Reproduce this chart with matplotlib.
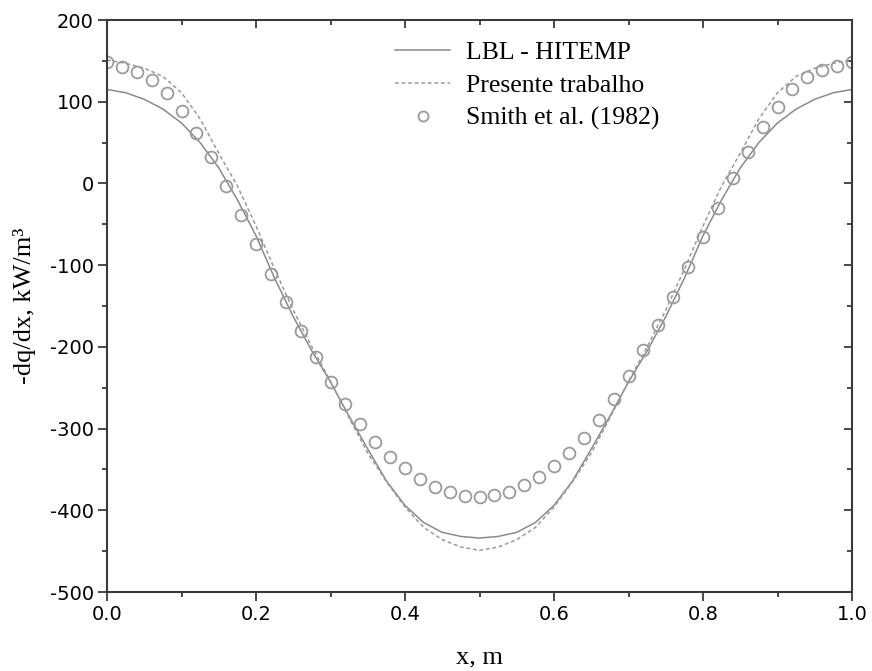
import numpy as np
import matplotlib
matplotlib.use("Agg")
import matplotlib.pyplot as plt

plt.rcParams["axes.unicode_minus"] = False

# curves sampled every 0.025 m
x_line = np.arange(0, 1.0001, 0.025)
lbl_hitemp = [115, 111, 103, 91, 74, 50, 19, -20, -64, -116, -163, -205, -243, -285,
              -325, -364, -394, -415, -427, -432, -434,
              -432, -427, -415, -394, -364, -325, -285, -243, -205, -163, -116, -64,
              -20, 19, 50, 74, 91, 103, 111, 115]
presente = [151, 147, 141, 131, 111, 79, 37, -3, -52, -105, -155, -200, -242, -287,
            -330, -365, -396, -421, -436, -445, -449,
            -445, -436, -421, -396, -365, -330, -287, -242, -200, -155, -105, -52,
            -3, 37, 79, 111, 131, 141, 147, 151]

# Smith et al. (1982), every 0.02 m
x_smith = np.arange(0, 1.0001, 0.02)
smith = [148, 142, 136, 127, 111, 89, 62, 32, -3, -39, -74, -111, -145, -180, -213,
         -243, -270, -294, -316, -335, -348, -362, -371, -378, -382, -384,
         -381, -378, -369, -359, -346, -330, -312, -290, -264, -236, -204, -173,
         -139, -102, -66, -30, 7, 39, 69, 93, 115, 130, 139, 144, 148]

serif = "Liberation Serif"
axcol = "#3a3a3a"

fig = plt.figure(figsize=(8.72, 6.71), dpi=100)
ax = fig.add_axes([107 / 872, 1 - 592 / 671, 745 / 872, 572 / 671])

ax.plot(x_line, lbl_hitemp, color="#8a8a8a", lw=1.1, label="LBL - HITEMP")
ax.plot(x_line, presente, color="#9a9a9a", lw=1.1, ls=(0, (2.5, 1.8)),
        label="Presente trabalho")
ax.plot(x_smith, smith, ls="none", marker="o", ms=8.5, mfc="none", mec="#9a9a9a",
        mew=1.3, label="Smith et al. (1982)", clip_on=True)

ax.set_xlim(0, 1)
ax.set_ylim(-500, 200)
ax.set_xticks(np.arange(0, 1.01, 0.2))
ax.set_xticks(np.arange(0.1, 1.0, 0.2), minor=True)
ax.set_yticks(np.arange(-500, 201, 100))
ax.set_yticks(np.arange(-450, 200, 100), minor=True)
ax.set_xticklabels(["0.0", "0.2", "0.4", "0.6", "0.8", "1.0"])

for s in ax.spines.values():
    s.set_color(axcol)
    s.set_linewidth(1.5)

ax.tick_params(which="both", direction="out", color=axcol, width=1.3,
               labelsize=14, labelcolor="black", pad=3)
ax.tick_params(which="major", length=6.5)
ax.tick_params(which="minor", length=3.5)

# ticks on top and right point inward
top = ax.secondary_xaxis("top")
top.set_xticks(np.arange(0, 1.01, 0.2))
top.set_xticks(np.arange(0.1, 1.0, 0.2), minor=True)
top.tick_params(which="both", direction="in", color=axcol, width=1.3, labeltop=False)
top.tick_params(which="major", length=6)
top.tick_params(which="minor", length=3.5)
top.spines["top"].set_visible(False)
right = ax.secondary_yaxis("right")
right.set_yticks(np.arange(-500, 201, 100))
right.set_yticks(np.arange(-450, 200, 100), minor=True)
right.tick_params(which="both", direction="in", color=axcol, width=1.3, labelright=False)
right.tick_params(which="major", length=6)
right.tick_params(which="minor", length=3.5)
right.spines["right"].set_visible(False)

ax.set_xlabel("x, m", family=serif, fontsize=19, labelpad=16)
ax.set_ylabel("-dq/dx, kW/m³", family=serif, fontsize=19, labelpad=10)

leg = ax.legend(loc="upper left", bbox_to_anchor=(0.3866, 0.963), frameon=False,
                prop={"family": serif, "size": 18.5}, handlelength=2.15,
                handletextpad=0.6, labelspacing=0.38, borderpad=0, borderaxespad=0,
                numpoints=1, markerscale=0.85)

fig.savefig("out.png", dpi=100)
